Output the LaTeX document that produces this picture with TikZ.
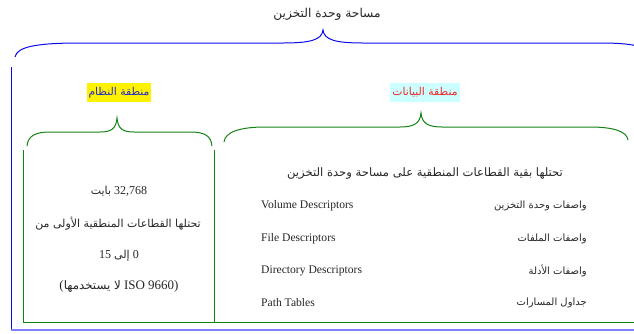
\documentclass[tikz,border=0pt]{standalone}
\usepackage{fontspec}
\setmainfont{Liberation Serif}
\newfontfamily\arfont[Script=Arabic]{DejaVu Sans}
\TeXXeTstate=1

\definecolor{unitblue}{RGB}{10,10,235}
\definecolor{baseblue}{RGB}{128,128,255}
\definecolor{zonegreen}{RGB}{20,130,20}
\definecolor{syscolor}{RGB}{40,40,200}
\definecolor{datacolor}{RGB}{240,40,40}
\definecolor{datafill}{RGB}{204,255,255}

\newcommand\arsmall{\arfont\fontsize{10}{12}\selectfont}
\newcommand\armid{\arfont\fontsize{11}{13}\selectfont}
\newcommand\arbig{\arfont\fontsize{11.8}{14}\selectfont}

\tikzset{
  unitbrace/.style={draw=unitblue, line width=1pt},
  zonebrace/.style={draw=zonegreen, line width=1pt},
  zoneline/.style={draw=zonegreen, line width=1pt},
  artext/.style={inner sep=0pt, font=\armid, text=black!85},
  rowtext/.style={inner sep=0pt, font=\arsmall, text=black!85},
  latext/.style={inner sep=0pt, font=\fontsize{11.6}{13}\selectfont, text=black!85},
  mixtext/.style={inner sep=0pt, font=\fontsize{12}{14}\selectfont, text=black!85},
  zonelabel/.style={inner xsep=2pt, inner ysep=4.5pt, font=\arfont\fontsize{10.8}{12}\selectfont},
}

\begin{document}
\begin{tikzpicture}[x=1pt, y=-1pt]
\useasboundingbox (0,0) rectangle (634,333);
\begin{scope}
\clip (0,0) rectangle (634,333);

% title and the brace spanning the whole storage unit
\node[artext, font=\arfont\fontsize{12.2}{14}\selectfont] (unit) at (327,14.5) {\beginR مساحة وحدة التخزين\endR};
\coordinate (unittip) at (323,30);
\draw[unitbrace] (15,57) .. controls (17,47) and (35,43) .. (80,43) -- (283,43)
  .. controls (310,43) and (322,40) .. (unittip)
  .. controls (324,40) and (336,43) .. (363,43) -- (600,43)
  .. controls (640,43) and (648,48) .. (650,57);

% outer frame of the storage unit
\draw[draw=unitblue, line width=0.8pt] (11,67) -- (11,330);
\draw[draw=baseblue, line width=2.5pt] (11,330) -- (640,330);

% zone labels
\node[zonelabel, fill=yellow, text=syscolor] (sys) at (119,92.5) {\beginR منطقة النظام\endR};
\node[zonelabel, fill=datafill, text=datacolor] (data) at (425,92.5) {\beginR منطقة البيانات\endR};

% braces over the two zones
\coordinate (systip) at (117,118);
\draw[zonebrace] (27,146) .. controls (28,136) and (35,132) .. (50,132) -- (100,132)
  .. controls (111,132) and (116,129) .. (systip)
  .. controls (118,129) and (123,132) .. (134,132) -- (190,132)
  .. controls (205,132) and (211,136) .. (212,146);
\coordinate (datatip) at (421,113);
\draw[zonebrace] (224,142) .. controls (225,132) and (240,127) .. (265,127) -- (400,127)
  .. controls (413,127) and (420,124) .. (datatip)
  .. controls (422,124) and (429,127) .. (442,127) -- (590,127)
  .. controls (615,127) and (627,132) .. (628,140);

% zone boxes
\draw[zoneline] (23,150) -- (23,322) -- (640,322);
\draw[zoneline] (214,150) -- (214,322);

% system area contents (right-to-left lines, numbers kept left-to-right)
\node[mixtext] (bytes) at (119,191.5) {\beginR\beginL 32,768\endL{} {\armid بايت}\endR};
\node[artext] (first) at (118,223.5) {\beginR تحتلها القطاعات المنطقية الأولى من\endR};
\node[mixtext] (range) at (119,255.5) {\beginR\beginL 0\endL{} {\armid إلى} \beginL 15\endL\endR};
\node[mixtext, font=\fontsize{13}{15}\selectfont] (iso) at (119,286.5) {({\arbig\beginR لا يستخدمها\endR} ISO 9660)};

% data area contents
\node[artext, font=\arfont\fontsize{11.6}{14}\selectfont] (rest) at (425,173.5) {\beginR تحتلها بقية القطاعات المنطقية على مساحة وحدة التخزين\endR};
\node[latext, anchor=west] (vden) at (261,205.5) {Volume Descriptors};
\node[rowtext, anchor=east] (vdar) at (587,205.5) {\beginR واصفات وحدة التخزين\endR};
\node[latext, anchor=west] (fden) at (261,238.5) {File Descriptors};
\node[rowtext, anchor=east] (fdar) at (587,238.5) {\beginR واصفات الملفات\endR};
\node[latext, anchor=west] (dden) at (261,270.5) {Directory Descriptors};
\node[rowtext, anchor=east] (ddar) at (587,270.5) {\beginR واصفات الأدلة\endR};
\node[latext, anchor=west] (pten) at (261,302.5) {Path Tables};
\node[rowtext, anchor=east] (ptar) at (587,302.5) {\beginR جداول المسارات\endR};
\end{scope}
\end{tikzpicture}
\end{document}
